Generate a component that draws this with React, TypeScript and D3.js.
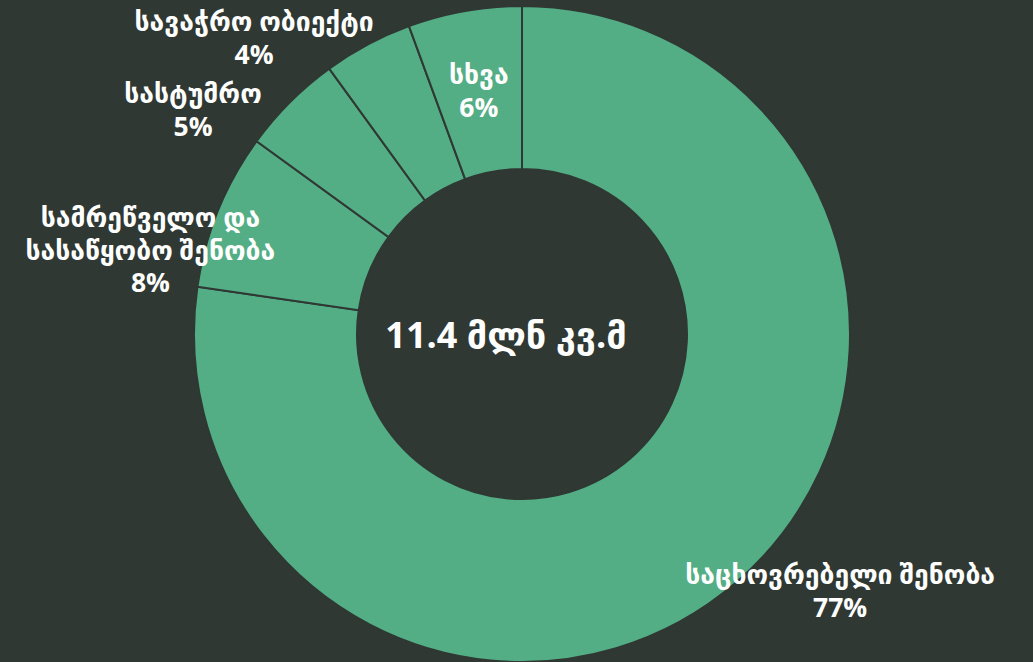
import React from "react";
import * as d3 from "d3";

const categories = [
  "საცხოვრებელი შენობა",
  "სამრეწველო და სასაწყობო შენობა",
  "სასტუმრო",
  "სავაჭრო ობიექტი",
  "სხვა",
];
const labelLines = [
  ["საცხოვრებელი შენობა"],
  ["სამრეწველო და", "სასაწყობო შენობა"],
  ["სასტუმრო"],
  ["სავაჭრო ობიექტი"],
  ["სხვა"],
];
const values = [77.3, 7.7, 5.0, 4.4, 5.6];
const percentLabels = ["77%", "8%", "5%", "4%", "6%"];
const centerLabel = "11.4 მლნ კვ.მ";
// label placement: inside flag, radius and angular nudge (degrees)
const labelInside = [false, false, false, false, true];
const labelRadius = [409, 381, 398, 399, 0];
const labelNudge = [-10.2, -9.4, -10.75, -14.1, 0];

const W = 1033;
const H = 662;
const BG = "#2f3833";
const GREEN = "#53ad85";
const FONT = "'Open Sans', 'DejaVu Sans', sans-serif";

export default function App() {
  const cx = 522, cy = 334;
  const outerR = 328, innerR = 165;
  const pie = d3.pie<number>().value((d) => d).sort(null);
  const arcs = pie(values);
  const arcGen = d3.arc<d3.PieArcDatum<number>>().innerRadius(innerR).outerRadius(outerR);
  const lineH = 32.8;
  const fs = 26.5;
  return (
    <div style={{ position: "fixed", left: 0, top: 0, width: W, height: H, background: BG, overflow: "hidden" }}>
      <svg width={W} height={H} style={{ display: "block" }}>
        <rect width={W} height={H} fill={BG} />
        <g transform={`translate(${cx},${cy})`}>
          {arcs.map((a, i) => (
            <path key={i} d={arcGen(a) || ""} fill={GREEN} stroke={BG} strokeWidth={2} />
          ))}
          {arcs.map((a, i) => {
            let x: number, y: number;
            if (labelInside[i]) {
              [x, y] = arcGen.centroid(a);
            } else {
              const mid = (a.startAngle + a.endAngle) / 2 + (labelNudge[i] * Math.PI) / 180;
              x = Math.sin(mid) * labelRadius[i];
              y = -Math.cos(mid) * labelRadius[i];
            }
            const lines = [...labelLines[i], percentLabels[i]];
            const y0 = y - ((lines.length - 1) * lineH) / 2;
            return (
              <g key={"t" + i}>
                {lines.map((l, j) => (
                  <text
                    key={j}
                    x={x}
                    y={y0 + j * lineH + fs * 0.36}
                    textAnchor="middle"
                    fill="#ffffff"
                    fontFamily={FONT}
                    fontWeight="bold"
                    fontSize={fs}
                  >
                    {l}
                  </text>
                ))}
              </g>
            );
          })}
          <text
            x={-16}
            y={0}
            textAnchor="middle"
            dominantBaseline="central"
            fill="#ffffff"
            fontFamily={FONT}
            fontWeight="bold"
            fontSize={36}
          >
            {centerLabel}
          </text>
        </g>
      </svg>
    </div>
  );
}
